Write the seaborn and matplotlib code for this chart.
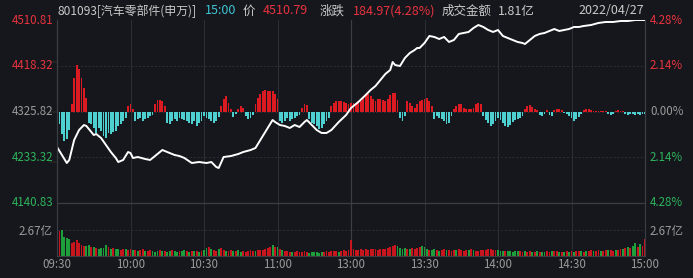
import matplotlib
matplotlib.use('Agg')
import matplotlib.pyplot as plt
import matplotlib.transforms as mtransforms
import pandas as pd
import seaborn as sns

# ---------------- data ----------------
time_ticks = [0, 30, 60, 90, 120, 150, 180, 210, 240]
time_labels = ['09:30', '10:00', '10:30', '11:00', '13:00', '13:30', '14:00', '14:30', '15:00']
price_ticks = [4510.81, 4418.32, 4325.82, 4233.32, 4140.83]
pct_labels = ['4.28%', '2.14%', '0.00%', '2.14%', '4.28%']
vol_tick = 2.67
vol_top = 5.34
vol_tick_label = '2.67亿'

price_minutes = [0, 2, 4, 5, 7, 9, 11, 12, 14, 15, 16, 18, 20, 22, 24, 25, 27, 29, 30, 31, 33, 36, 38, 40,
                 43, 45, 48, 50, 52, 55, 58, 61, 63, 65, 66, 68, 71, 74, 76, 79, 81, 83, 86, 88, 89, 91,
                 93, 95, 97, 99, 101, 102, 104, 106, 108, 110, 112, 115, 118, 120, 123, 126, 128, 130,
                 132, 134, 136, 137, 138, 140, 142, 144, 146, 147, 148, 150, 152, 154, 156, 158, 160,
                 162, 164, 166, 168, 170, 172, 174, 176, 178, 180, 182, 184, 186, 188, 190, 191, 193,
                 195, 197, 199, 201, 203, 205, 207, 209, 211, 213, 215, 218, 221, 224, 227, 230, 233,
                 236, 240]
prices = [4254.1, 4237.9, 4221.7, 4227.8, 4268.2, 4288.4, 4298.5, 4296.5, 4284.4, 4278.3, 4280.3,
          4272.2, 4258.0, 4243.9, 4231.8, 4223.7, 4227.8, 4243.9, 4241.9, 4231.8, 4233.8, 4229.8,
          4227.8, 4235.8, 4248.0, 4243.9, 4237.9, 4235.8, 4231.8, 4221.7, 4223.7, 4221.7, 4223.7,
          4213.6, 4211.6, 4233.8, 4235.8, 4239.9, 4243.9, 4247.9, 4252.0, 4268.2, 4292.5, 4308.6,
          4304.6, 4298.5, 4296.5, 4292.5, 4298.5, 4294.5, 4304.6, 4308.6, 4298.5, 4288.4, 4282.4,
          4282.4, 4288.4, 4304.6, 4318.7, 4332.9, 4345.0, 4359.2, 4369.3, 4377.4, 4389.5, 4401.6,
          4409.7, 4425.9, 4419.8, 4417.8, 4434.0, 4444.1, 4450.2, 4454.2, 4454.2, 4464.3, 4478.5,
          4476.5, 4472.4, 4476.5, 4466.4, 4470.4, 4482.6, 4484.6, 4486.6, 4494.7, 4500.7, 4496.7,
          4490.6, 4486.6, 4490.6, 4478.5, 4474.4, 4470.4, 4466.4, 4464.3, 4462.3, 4470.4, 4478.5,
          4482.6, 4484.6, 4488.6, 4492.6, 4488.6, 4490.6, 4492.6, 4496.7, 4496.7, 4498.7, 4500.7,
          4504.8, 4506.8, 4506.8, 4508.8, 4508.8, 4510.8, 4510.79]

# buy/sell strength bars around the zero line (one per minute)
ind_am1 = [-5, -12, -22, -29, -27, -18, 8, 34, 47, 43, 34, 24, 14,
           -11, -12, -16, -21, -16, -19, -24, -26, -21, -22, -20, -19, -14, -12, -9, -6,
           6, 8, 3, -9, -7, -6, -9, -7, -6, -4, -3, 8, 12, 12, 11, 6,
           -11, -12, -9, -7, -9, -6, -7, -8, -9, -11, -12, -9, -14, -11, -9]
ind_am2 = [-4, -6, -7, -9, -11, -9, -5, 6, 13, 16, 9, 3, -5, -2, 3, 6, 4, -4, -7, -6, -3,
           8, 14, 18, 21, 22, 21, 21, 21, 18, 13, -9, -11, -9, -6, -9, -7, -6, -4, -3,
           4, 8, 7, -7, -11, -12, -14, -17, -16, -12, -9, -6, 6, 9, 11, 11, 11, 10, 9, 8]
ind_pm1 = [9, 9, 8, 11, 11, 14, 17, 18, 16, 13, 11, 13, 13, 12, 11, 13, 17, 19, 19, 12,
           -6, -9, -4, 11, 9, 6, 4, 8, 11, 12, 13, 14, 11, 6, -7, -4, -6, -7, -9, -12, -11, -4,
           3, 6, 8, 8, 4, 3, 3, 3, 4, 8, 9, 8, -4, -8, -11, -14, -12, -9]
ind_pm2 = [-6, -8, -11, -14, -15, -13, -10, -8, -7, -6, -4, 3, 6, 7, 5, 3, 2, -3, -4, -2, 2,
           -3, -4, 2, 3, 3, 2, -1, -2, -4, -6, -9, -7, -5, -2, 2, 3, 3, 2, 1, 1, 1, 1, 1, 1,
           -2, -3, -2, 1, 2, 1, 1, -2, -3, -2, -2, -3, -2, -3, -2, -2]

# volume (亿) per minute and its colour (r = up, g = down)
vol_a = [5.3, 2.5, 2.6, 1.9, 1.85, 1.75, 1.3, 1.4, 1.6, 1.3, 1.1, 1.0, 1.0, 1.1, 0.9, 0.95, 0.8, 0.75,
         0.85, 0.8, 1.1, 0.9, 0.7, 0.8, 0.75, 0.7, 0.65, 0.7, 0.75, 0.6]
vol_b = [0.7, 0.6, 0.65, 0.55, 0.6, 0.7, 0.5, 0.55, 0.6, 0.5, 0.45, 0.55, 0.6, 0.5, 0.5, 0.45, 0.55,
         0.6, 0.5, 0.45, 0.5, 0.55, 0.6, 0.5, 0.45, 0.5, 0.55, 0.5, 0.45, 0.5]
vol_c = [0.6, 0.8, 0.9, 0.7, 0.6, 0.5, 0.7, 0.8, 0.6, 0.5, 0.55, 0.6, 0.5, 0.55, 0.6, 0.45, 0.5, 0.4,
         0.5, 0.6, 0.55, 0.5, 0.6, 0.65, 0.6, 0.7, 0.8, 0.9, 1.1, 0.9]
vol_d = [0.9, 0.7, 0.6, 0.55, 0.5, 0.45, 0.4, 0.45, 0.5, 0.4, 0.45, 0.5, 0.4, 0.35, 0.4, 0.45, 0.4,
         0.35, 0.4, 0.45, 0.5, 0.45, 0.5, 0.55, 0.5, 0.45, 0.55, 0.6, 0.5, 0.6]
vol_e = [1.6, 0.7, 0.6, 0.65, 0.7, 0.6, 0.7, 0.65, 0.7, 0.75, 0.7, 0.65, 0.7, 0.75, 0.7, 0.8, 0.9,
         1.0, 1.1, 1.0, 0.8, 0.75, 0.8, 0.7, 0.75, 0.8, 0.7, 0.8, 0.9, 1.0]
vol_f = [0.9, 0.7, 0.65, 0.6, 0.7, 0.6, 0.55, 0.6, 0.7, 0.65, 0.6, 0.55, 0.6, 0.65, 0.7, 0.6, 0.55,
         0.6, 0.65, 0.7, 0.6, 0.55, 0.5, 0.6, 0.65, 0.6, 0.7, 0.75, 0.65, 0.6]
vol_g = [0.6, 0.55, 0.5, 0.5, 0.55, 0.5, 0.45, 0.5, 0.55, 0.5, 0.45, 0.5, 0.45, 0.5, 0.45, 0.4, 0.5,
         0.45, 0.4, 0.45, 0.5, 0.45, 0.5, 0.55, 0.5, 0.45, 0.4, 0.45, 0.5, 0.45]
vol_h = [0.5, 0.45, 0.5, 0.55, 0.5, 0.45, 0.5, 0.55, 0.6, 0.5, 0.55, 0.6, 0.5, 0.55, 0.6, 0.65, 0.6,
         0.55, 0.6, 0.65, 0.7, 0.7, 0.8, 0.9, 0.8, 1.0, 1.3, 0.9, 1.2, 1.0, 1.7]
vol_colors = ("grggggrrrrrrggrgrggggrgrggrrgr"
              "rgrgrrgrrgggrgrggrggrggrgrgrgr"
              "ggrgrrgrrgrrgrggrrrrrgrrrrrrgr"
              "grgrrrgrrrrrrggggggrrrrrrgrrrr"
              "rrrrrrrrrrrrrrrrrrrggggrgrrrrg"
              "ggrggrgrrgrrrgrrrrgrgrrrrrrrrr"
              "gggrgggggrrgrrgrgrggrrgrrgrgrg"
              "rgrrgrgrrgrrgrrgrrgrrgrgrggrgrr")

header_name = '801093[汽车零部件(申万)]'
header_time = '15:00'
header_price = '4510.79'
header_change = '184.97(4.28%)'
header_amount = '1.81亿'
header_date = '2022/04/27'

# ---------------- styling ----------------
BG = '#15171c'
GRID = '#2c2f36'
SPINE = '#3b3e45'
RED_TXT = '#e8333f'
GREEN_TXT = '#2eb35c'
GREY_TXT = '#9a9a9a'
LIGHT_TXT = '#c9c9c9'
CYAN_TXT = '#3fc6d4'
BAR_RED = '#dc1a22'
BAR_CYAN = '#4fd0d0'
VOL_RED = '#c9151e'
VOL_GREEN = '#1f9e3c'

sns.set_theme(style='dark')
plt.rcParams['font.family'] = ['Noto Sans CJK SC', 'DejaVu Sans']
plt.rcParams['axes.unicode_minus'] = False

W, H = 693, 278
fig = plt.figure(figsize=(W / 100, H / 100), dpi=100, facecolor=BG)

L, R = 57, 645
def frac_box(x0, y0, x1, y1):
    return [x0 / W, 1 - y1 / H, (x1 - x0) / W, (y1 - y0) / H]

ax_ind = fig.add_axes(frac_box(L, 20, R, 203))
ax_vol = fig.add_axes(frac_box(L, 203, R, 256))

ind = ind_am1 + ind_am2 + ind_pm1 + ind_pm2
vol = vol_a + vol_b + vol_c + vol_d + vol_e + vol_f + vol_g + vol_h
minutes = list(range(len(ind)))

df_ind = pd.DataFrame({'m': minutes, 'v': ind,
                       'side': ['up' if v > 0 else 'down' for v in ind]})
df_vol = pd.DataFrame({'m': list(range(len(vol))), 'v': vol, 'c': list(vol_colors)})

for a in (ax_ind, ax_vol):
    a.set_facecolor(BG)
    for s in a.spines.values():
        s.set_color(SPINE)
        s.set_linewidth(0.8)
    a.tick_params(left=False, bottom=False, labelleft=False, labelbottom=False)
ax_ind.spines['top'].set_visible(False)

# indicator bars (units: half-panel = 91.5)
sns.barplot(data=df_ind, x='m', y='v', hue='side', palette={'up': BAR_RED, 'down': BAR_CYAN},
            native_scale=True, dodge=False, errorbar=None, width=0.75, saturation=1,
            linewidth=0, legend=False, ax=ax_ind, zorder=2)
ax_ind.set_ylim(-91.5, 91.5)
ax_ind.set_xlim(0, 240)
for yv in (-45.75, 0, 45.75):
    ax_ind.axhline(yv, color=GRID, lw=0.7, ls=(0, (2, 2)), zorder=0)

# price line on twin axis
ax_p = ax_ind.twinx()
sns.lineplot(x=price_minutes, y=prices, ax=ax_p, color='white', linewidth=1.4)
ax_p.set_ylim(price_ticks[-1], price_ticks[0])
ax_p.set_xlim(0, 240)
ax_p.tick_params(right=False, labelright=False, left=False, bottom=False, labelbottom=False)
ax_p.set_ylabel('')
for s in ax_p.spines.values():
    s.set_color(SPINE)
    s.set_linewidth(0.8)
ax_p.spines['top'].set_visible(False)

# volume bars
sns.barplot(data=df_vol, x='m', y='v', hue='c', palette={'r': VOL_RED, 'g': VOL_GREEN},
            native_scale=True, dodge=False, errorbar=None, width=0.75, saturation=1,
            linewidth=0, legend=False, ax=ax_vol, zorder=2)
ax_vol.set_ylim(0, vol_top)
ax_vol.set_xlim(0, 240)
ax_vol.axhline(vol_tick, color=GRID, lw=0.7, ls=(0, (2, 2)), zorder=0)

for a in (ax_ind, ax_vol):
    a.set_xlabel('')
    a.set_ylabel('')
    for t in time_ticks[1:-1]:
        if t == 120:
            a.axvline(t, color=SPINE, lw=0.9, zorder=0)
        else:
            a.axvline(t, color=GRID, lw=0.7, zorder=0)

# ---------------- texts ----------------
FS = 8.3
def ftext(x, y, s, color, ha='left', fs=FS):
    fig.text(x / W, 1 - y / H, s, color=color, ha=ha, va='center', fontsize=fs)

label_y = [20, 65.5, 111.5, 157.5, 203]
left_cols = [RED_TXT, RED_TXT, GREY_TXT, GREEN_TXT, GREEN_TXT]
for yv, p, c in zip(label_y, price_ticks, left_cols):
    ftext(53, yv, f'{p:.2f}', c, ha='right')
for yv, p, c in zip(label_y, pct_labels, left_cols):
    ftext(650, yv, p, c, ha='left')
ftext(53, 231, vol_tick_label, GREY_TXT, ha='right')
ftext(650, 231, vol_tick_label, GREY_TXT, ha='left')

trans = mtransforms.blended_transform_factory(ax_vol.transData, fig.transFigure)
for t, lab in zip(time_ticks, time_labels):
    ax_vol.text(t, 1 - 265 / H, lab, transform=trans, ha='center', va='center',
                color=GREY_TXT, fontsize=FS, clip_on=False)

HY = 11
HF = 9.0
ftext(57, HY, header_name, LIGHT_TXT, fs=8.6)
ftext(205, HY, header_time, CYAN_TXT, fs=HF)
ftext(243, HY, '价', LIGHT_TXT, fs=HF)
ftext(263, HY, header_price, RED_TXT, fs=HF)
ftext(320, HY, '涨跌', LIGHT_TXT, fs=HF)
ftext(353, HY, header_change, RED_TXT, fs=HF)
ftext(442, HY, '成交金额', LIGHT_TXT, fs=HF)
ftext(498, HY, header_amount, LIGHT_TXT, fs=HF)
ftext(644, HY, header_date, LIGHT_TXT, ha='right', fs=HF)

fig.savefig('out.png', dpi=100, facecolor=BG)
